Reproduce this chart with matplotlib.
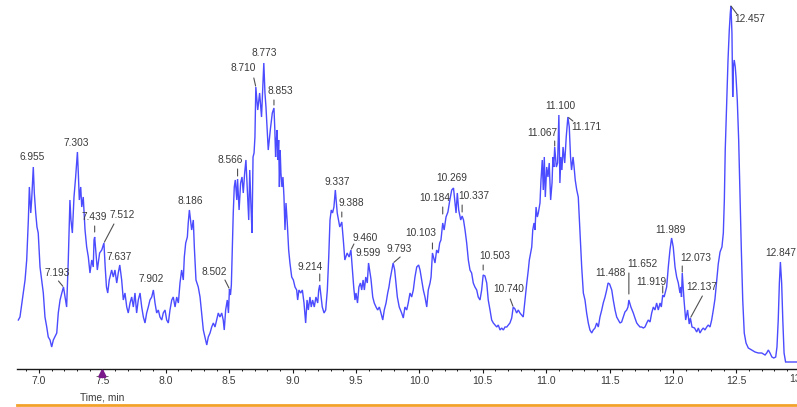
import numpy as np
import matplotlib
matplotlib.use("Agg")
import matplotlib.pyplot as plt
from matplotlib.ticker import MultipleLocator, FormatStrFormatter

# ---- chromatogram trace: retention time (min) and detector response ----
rt = [
    6.837, 6.850, 6.876, 6.890, 6.903, 6.916, 6.924, 6.935, 6.942, 6.955,
    6.963, 6.974, 6.984, 6.994, 7.008, 7.021, 7.034, 7.047, 7.061, 7.073,
    7.087, 7.100, 7.113, 7.140, 7.152, 7.166, 7.180, 7.193, 7.218, 7.231,
    7.244, 7.252, 7.263, 7.276, 7.289, 7.303, 7.310, 7.318, 7.329, 7.337,
    7.349, 7.363, 7.376, 7.389, 7.402, 7.416, 7.428, 7.434, 7.439, 7.460,
    7.478, 7.495, 7.512, 7.522, 7.532, 7.542, 7.554, 7.573, 7.586, 7.599,
    7.613, 7.625, 7.637, 7.652, 7.665, 7.678, 7.692, 7.704, 7.718, 7.731,
    7.744, 7.757, 7.770, 7.783, 7.797, 7.810, 7.823, 7.836, 7.849, 7.862,
    7.875, 7.889, 7.902, 7.915, 7.928, 7.941, 7.954, 7.968, 7.980, 7.994,
    8.007, 8.020, 8.033, 8.047, 8.059, 8.073, 8.086, 8.099, 8.112, 8.125,
    8.138, 8.146, 8.157, 8.170, 8.177, 8.186, 8.204, 8.217, 8.225, 8.238,
    8.256, 8.270, 8.283, 8.296, 8.309, 8.323, 8.335, 8.349, 8.362, 8.375,
    8.388, 8.401, 8.414, 8.427, 8.441, 8.453, 8.461, 8.472, 8.485, 8.494,
    8.502, 8.510, 8.517, 8.524, 8.532, 8.540, 8.548, 8.554, 8.560, 8.566,
    8.578, 8.590, 8.601, 8.611, 8.622, 8.632, 8.643, 8.654, 8.662, 8.672,
    8.680, 8.688, 8.696, 8.703, 8.710, 8.725, 8.740, 8.755, 8.773, 8.782,
    8.790, 8.800, 8.808, 8.825, 8.840, 8.853, 8.860, 8.866, 8.872, 8.878,
    8.884, 8.890, 8.896, 8.902, 8.908, 8.916, 8.924, 8.932, 8.940, 8.948,
    8.958, 8.969, 8.979, 8.993, 9.006, 9.019, 9.032, 9.040, 9.050, 9.064,
    9.077, 9.090, 9.103, 9.114, 9.124, 9.137, 9.147, 9.158, 9.171, 9.184,
    9.198, 9.206, 9.214, 9.234, 9.248, 9.261, 9.274, 9.285, 9.295, 9.305,
    9.315, 9.326, 9.337, 9.352, 9.372, 9.388, 9.400, 9.412, 9.430, 9.446,
    9.460, 9.472, 9.482, 9.492, 9.500, 9.512, 9.523, 9.535, 9.545, 9.556,
    9.566, 9.577, 9.589, 9.599, 9.618, 9.632, 9.644, 9.658, 9.671, 9.684,
    9.697, 9.711, 9.723, 9.737, 9.750, 9.760, 9.768, 9.793, 9.805, 9.815,
    9.826, 9.841, 9.860, 9.873, 9.886, 9.900, 9.912, 9.926, 9.939, 9.952,
    9.965, 9.979, 9.994, 10.005, 10.018, 10.031, 10.044, 10.058, 10.070, 10.084,
    10.092, 10.103, 10.123, 10.136, 10.149, 10.160, 10.170, 10.184, 10.195, 10.210,
    10.225, 10.240, 10.255, 10.269, 10.281, 10.289, 10.299, 10.310, 10.326, 10.337,
    10.348, 10.360, 10.373, 10.386, 10.399, 10.412, 10.425, 10.438, 10.452, 10.464,
    10.478, 10.491, 10.503, 10.517, 10.531, 10.543, 10.557, 10.570, 10.583, 10.596,
    10.610, 10.622, 10.636, 10.649, 10.662, 10.675, 10.689, 10.701, 10.714, 10.728,
    10.740, 10.754, 10.767, 10.780, 10.793, 10.806, 10.819, 10.833, 10.846, 10.859,
    10.867, 10.886, 10.894, 10.904, 10.912, 10.920, 10.930, 10.938, 10.951, 10.959,
    10.969, 10.977, 10.985, 10.993, 11.004, 11.014, 11.024, 11.035, 11.046, 11.053,
    11.060, 11.067, 11.080, 11.090, 11.095, 11.100, 11.108, 11.116, 11.124, 11.133,
    11.146, 11.158, 11.171, 11.182, 11.192, 11.200, 11.212, 11.220, 11.229, 11.241,
    11.253, 11.267, 11.280, 11.293, 11.306, 11.319, 11.332, 11.345, 11.359, 11.371,
    11.385, 11.398, 11.411, 11.424, 11.438, 11.450, 11.464, 11.477, 11.488, 11.500,
    11.517, 11.529, 11.543, 11.556, 11.569, 11.582, 11.595, 11.608, 11.621, 11.635,
    11.645, 11.652, 11.668, 11.687, 11.700, 11.714, 11.726, 11.740, 11.753, 11.766,
    11.779, 11.793, 11.805, 11.819, 11.832, 11.845, 11.858, 11.871, 11.884, 11.898,
    11.908, 11.919, 11.930, 11.950, 11.963, 11.976, 11.989, 12.002, 12.016, 12.029,
    12.042, 12.055, 12.062, 12.067, 12.073, 12.087, 12.100, 12.115, 12.128, 12.137,
    12.150, 12.170, 12.187, 12.200, 12.213, 12.226, 12.239, 12.252, 12.266, 12.278,
    12.292, 12.305, 12.318, 12.331, 12.345, 12.357, 12.371, 12.386, 12.397, 12.405,
    12.412, 12.424, 12.434, 12.444, 12.452, 12.457, 12.465, 12.471, 12.476, 12.483,
    12.491, 12.497, 12.507, 12.518, 12.528, 12.539, 12.550, 12.562, 12.576, 12.594,
    12.621, 12.647, 12.673, 12.700, 12.726, 12.739, 12.752, 12.765, 12.780, 12.795,
    12.810, 12.820, 12.830, 12.839, 12.847, 12.857, 12.866, 12.876, 12.888, 12.914,
    12.940, 12.975,
]

intensity = [
    49, 52, 76, 89, 109, 149, 182, 156, 169, 202,
    176, 156, 142, 136, 102, 89, 76, 52, 42, 32,
    29, 22, 29, 36, 56, 69, 76, 82, 62, 109,
    169, 149, 136, 172, 192, 217, 196, 169, 182, 162,
    172, 139, 122, 112, 96, 109, 102, 129, 132, 99,
    116, 119, 126, 102, 82, 76, 89, 99, 92, 99,
    86, 96, 104, 89, 69, 76, 62, 56, 66, 72,
    62, 76, 56, 69, 76, 62, 52, 46, 56, 62,
    69, 72, 79, 66, 56, 59, 52, 49, 56, 59,
    49, 46, 59, 69, 72, 62, 72, 66, 86, 99,
    89, 112, 126, 132, 146, 159, 139, 149, 122, 89,
    82, 72, 56, 39, 32, 24, 32, 36, 42, 46,
    42, 49, 56, 52, 56, 49, 39, 59, 69, 56,
    80, 74, 84, 119, 156, 182, 189, 179, 169, 190,
    159, 186, 192, 176, 196, 209, 179, 149, 199, 162,
    136, 212, 216, 232, 282, 259, 276, 252, 306, 276,
    262, 239, 219, 240, 256, 261, 239, 212, 229, 239,
    209, 229, 182, 219, 196, 182, 192, 172, 139, 166,
    146, 119, 106, 92, 89, 82, 79, 69, 79, 76,
    79, 66, 46, 69, 59, 72, 62, 69, 62, 72,
    66, 79, 84, 62, 56, 59, 79, 112, 149, 159,
    156, 162, 179, 156, 142, 147, 129, 109, 116, 112,
    119, 99, 82, 69, 76, 66, 82, 86, 79, 89,
    79, 92, 86, 106, 90, 72, 66, 62, 59, 62,
    56, 49, 59, 66, 76, 82, 89, 106, 99, 86,
    72, 62, 56, 51, 62, 59, 66, 76, 72, 79,
    92, 102, 104, 99, 89, 79, 72, 62, 79, 86,
    92, 116, 106, 119, 116, 126, 129, 146, 139, 152,
    157, 169, 179, 181, 166, 156, 176, 159, 149, 153,
    149, 139, 126, 109, 99, 96, 86, 82, 79, 72,
    69, 79, 94, 93, 86, 69, 59, 49, 46, 44,
    42, 44, 39, 41, 39, 42, 42, 44, 46, 51,
    62, 60, 56, 59, 56, 54, 52, 69, 85, 99,
    109, 122, 139, 146, 139, 162, 152, 156, 166, 189,
    209, 179, 212, 172, 202, 192, 206, 169, 186, 212,
    202, 222, 202, 206, 229, 254, 186, 212, 199, 222,
    206, 232, 252, 242, 212, 199, 212, 202, 189, 179,
    172, 136, 102, 76, 69, 56, 46, 39, 36, 39,
    41, 46, 42, 52, 59, 66, 72, 79, 86, 85,
    79, 69, 59, 52, 49, 46, 47, 52, 57, 59,
    62, 69, 62, 56, 51, 46, 44, 42, 42, 41,
    42, 46, 49, 47, 56, 62, 59, 66, 59, 66,
    62, 74, 72, 82, 102, 119, 131, 122, 102, 92,
    86, 76, 82, 72, 96, 69, 49, 59, 45, 51,
    42, 41, 37, 41, 36, 39, 41, 39, 42, 44,
    42, 49, 59, 70, 89, 105, 117, 122, 136, 169,
    219, 269, 309, 339, 356, 363, 336, 272, 302, 309,
    302, 292, 269, 229, 176, 119, 69, 36, 26, 21,
    19, 17, 16, 16, 14, 16, 19, 16, 12, 11,
    12, 22, 49, 86, 107, 86, 49, 16, 7, 7,
    7, 7,
]

# ---- labelled peaks (retention times printed above the trace) ----
peak_rt = [
    6.955, 7.193, 7.303, 7.439, 7.512, 7.637, 7.902, 8.186, 8.502, 8.566,
    8.710, 8.773, 8.853, 9.214, 9.337, 9.388, 9.460, 9.599, 9.793, 10.103,
    10.184, 10.269, 10.337, 10.503, 10.740, 11.067, 11.100, 11.171, 11.488,
    11.652, 11.919, 11.989, 12.073, 12.137, 12.457, 12.847,
]

# label placement: (dx, dy) text offset in pixels from the apex,
# and an optional leader line (start dx, start dy, gap at apex) in pixels
label_offsets = [
    (-1, 10), (-6, 14), (-1, 9), (0, 20), (18.5, 28), (-1, 8), (-2, 11),
    (0.5, 9), (-15.5, 17), (-7, 19), (-12.5, 19), (0, 10), (6, 17),
    (-10, 18), (2, 8), (10, 19), (14, 12), (0, 10), (6, 14), (-12, 20),
    (-8, 25), (-2, 10), (12, 20), (11.5, 19), (-5, 18), (-12.5, 14),
    (1, 9), (18, -10), (2, 10), (13.5, 36), (-11, 13), (-1, 8),
    (13.5, 15), (11, 31), (18.5, -13), (0, 9),
]
leaders = [
    None, (-5, 6, 1), None, (0, 11, 5), (10, 19, 1), None, None,
    None, (-4.5, 9, 1), (0, 10, 3), (-2, 9, 1), None, (0, 8, 3),
    (0, 11, 4), None, (0, 10, 5), (3, 6, 1), None, (7, 6, 1), (0, 10, 4),
    (0, 16, 9), None, (0, 11, 4), (0, 10, 5), (-3, 8, 1), (0, 6, 1),
    None, (5, -4, 1), None, (0, 27, 6), (0, 9, 2), None,
    (0, 7, 1), (12, 22, 1), (6, -8, 0), None,
]

x_ticks_major = 0.5
x_ticks_minor = 0.1
x_label = "Time, min"

assert len(rt) == len(intensity)
assert len(peak_rt) == len(label_offsets) == len(leaders)

W, H, DPI = 797, 407, 100
fig = plt.figure(figsize=(W / DPI, H / DPI), dpi=DPI)
ax = fig.add_axes([17 / W, 38 / H, 780 / W, 369 / H])

label_font = ["Liberation Sans Narrow", "Liberation Sans", "DejaVu Sans"]
text_color = "#3a3a3a"

ax.plot(rt, intensity, color="#4b4bff", lw=1.0, solid_joinstyle="miter")

ax.set_xlim(6.8265, 12.978)
ax.set_ylim(0, 369)

for s in ("top", "left", "right"):
    ax.spines[s].set_visible(False)
ax.spines["bottom"].set_color("#1a1a1a")
ax.spines["bottom"].set_linewidth(1.0)
ax.set_yticks([])

ax.xaxis.set_major_locator(MultipleLocator(x_ticks_major))
ax.xaxis.set_minor_locator(MultipleLocator(x_ticks_minor))
ax.xaxis.set_major_formatter(FormatStrFormatter("%.1f"))
ax.tick_params(axis="x", which="major", length=3.2, width=0.8, color="#1a1a1a",
               pad=1.8, labelsize=7.5, labelcolor=text_color)
ax.tick_params(axis="x", which="minor", length=1.6, width=0.7, color="#1a1a1a")
for lab in ax.get_xticklabels():
    lab.set_family(label_font)

# the 13.0 tick label sits right on the figure edge
ax.text(13.0, -5.0, "13.0", transform=ax.transData,
        ha="center", va="top", fontsize=7.5, color=text_color, family=label_font,
        clip_on=False)

# peak labels
for t, (dx, dy), lead in zip(peak_rt, label_offsets, leaders):
    y = float(np.interp(t, rt, intensity))
    ax.annotate(f"{t:.3f}", xy=(t, y), xytext=(dx, dy), textcoords="offset pixels",
                ha="center", va="center", fontsize=7.3, color=text_color,
                family=label_font, annotation_clip=False)
    if lead is not None:
        sx, sy, gap = lead
        ax.annotate("", xy=(t, y), xytext=(sx, sy), textcoords="offset pixels",
                    arrowprops=dict(arrowstyle="-", color="#505050", lw=0.8,
                                    shrinkA=0, shrinkB=gap * 0.72),
                    annotation_clip=False)

# cursor marker on the time axis
ax.annotate("", xy=(7.5, 1.0), xytext=(7.5, -8.0),
            arrowprops=dict(arrowstyle="-|>", color="#7a1a8a", lw=2.0,
                            mutation_scale=10, shrinkA=0, shrinkB=0),
            annotation_clip=False)

fig.text(102.5 / W, 1 - 397 / H, x_label, ha="center", va="center",
         fontsize=7.3, color=text_color, family=label_font)

# orange rule along the bottom edge
fig.add_artist(plt.Line2D([17 / W, 1.0], [1 - 405 / H, 1 - 405 / H],
                          transform=fig.transFigure, color="#f2a22a", lw=2.0))

fig.savefig("out.png", dpi=DPI)
